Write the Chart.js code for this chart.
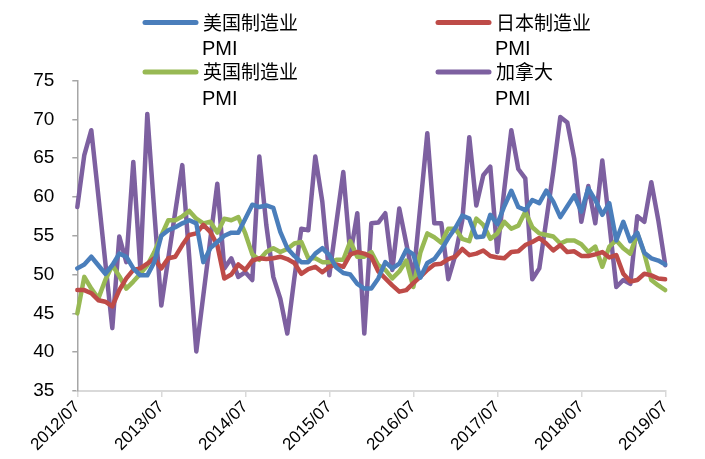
<!DOCTYPE html>
<html>
<head>
<meta charset="utf-8">
<script src="https://cdn.jsdelivr.net/npm/chart.js@4/dist/chart.umd.min.js"></script>
<style>
  html, body { margin: 0; padding: 0; background: #ffffff; }
  #wrap { width: 705px; height: 459px; }
</style>
</head>
<body>
<div id="wrap"><canvas id="pmi" width="705" height="459"></canvas></div>
<script>
// Monthly manufacturing PMI readings, 2012/07 through 2019/07
const firstYear = 2012;
const firstMonth = 7;
const monthCount = 85;
const months = [];
for (let k = 0; k < monthCount; k++) {
  const m = firstMonth - 1 + k;
  months.push((firstYear + Math.floor(m / 12)) + '/' + String(m % 12 + 1).padStart(2, '0'));
}

const seriesNames = [
  ['美国制造业', 'PMI'],
  ['日本制造业', 'PMI'],
  ['英国制造业', 'PMI'],
  ['加拿大', 'PMI']
];

const usPMI = [
  50.8, 51.3, 52.3, 51.2, 50.1, 51.2, 52.7, 52.3, 50.8, 49.9, 49.9, 51.6, 55.0,
  55.7, 56.1, 56.6, 57.0, 56.6, 51.6, 53.4, 54.2, 55.0, 55.4, 55.4, 57.2,
  59.0, 58.7, 58.9, 58.6, 55.5, 53.4, 52.4, 51.6, 51.6, 52.7, 53.4, 52.5,
  50.9, 50.2, 50.0, 48.8, 48.2, 48.2, 49.5, 51.6, 50.8, 51.4, 53.2, 52.6,
  49.6, 51.5, 52.0, 53.2, 54.7, 56.0, 57.6, 57.2, 54.8, 54.9, 57.7, 56.5,
  58.8, 60.8, 58.7, 58.3, 59.6, 59.2, 60.8, 59.4, 57.4, 58.8, 60.2, 58.1,
  61.1, 59.6, 57.7, 59.2, 54.4, 56.8, 54.3, 55.4, 52.8, 52.1, 51.8, 51.3
];
const japanPMI = [
  48.0, 48.0, 47.6, 46.7, 46.5, 45.9, 48.0, 49.5, 50.6, 50.8, 51.4, 52.1, 50.8,
  52.1, 52.3, 53.8, 55.1, 55.3, 56.4, 55.5, 53.8, 49.5, 50.0, 51.3, 50.6,
  51.8, 52.1, 52.0, 52.1, 52.3, 52.0, 51.5, 50.1, 50.7, 51.0, 50.3, 51.0,
  51.3, 51.0, 52.6, 52.9, 52.7, 52.3, 50.4, 49.5, 48.6, 47.8, 48.0, 48.9,
  49.7, 50.6, 51.3, 51.4, 52.0, 52.3, 53.3, 52.5, 52.7, 53.1, 52.4, 52.2,
  52.1, 52.9, 53.0, 53.8, 54.2, 54.7, 54.0, 53.1, 53.8, 52.9, 53.0, 52.4,
  52.4, 52.6, 52.9, 52.2, 52.5, 50.1, 49.1, 49.3, 50.1, 49.9, 49.5, 49.4
];
const ukPMI = [
  45.0, 49.7, 48.2, 46.9, 49.3, 51.2, 49.8, 48.2, 49.1, 50.1, 51.2, 52.9, 55.0,
  57.0, 57.0, 57.5, 58.2, 57.2, 56.6, 56.8, 55.4, 57.2, 57.0, 57.4, 55.3,
  52.6, 51.9, 52.9, 53.4, 52.9, 53.3, 54.0, 54.2, 52.1, 52.1, 51.6, 51.6,
  51.9, 51.9, 54.3, 52.3, 52.3, 52.9, 51.2, 50.6, 49.5, 50.4, 51.8, 48.4,
  52.8, 55.3, 54.8, 54.1, 55.9, 55.9, 54.6, 54.3, 57.2, 56.4, 54.6, 55.3,
  56.8, 55.9, 56.3, 58.1, 56.1, 55.3, 55.1, 54.9, 54.0, 54.4, 54.4, 53.9,
  52.9, 53.6, 51.0, 53.6, 54.4, 53.4, 52.7, 55.3, 52.7, 49.3, 48.6, 48.0
];
const canadaPMI = [
  58.7, 65.4, 68.6, 60.2, 51.6, 43.1, 54.9, 51.6, 64.5, 50.8, 70.7, 58.1, 46.0,
  52.1, 58.1, 64.1, 52.1, 40.1, 47.3, 54.5, 61.7, 50.8, 52.1, 49.7, 50.3,
  49.3, 65.2, 56.4, 49.7, 46.9, 42.4, 49.5, 55.9, 55.7, 65.2, 59.4, 49.9,
  56.6, 63.2, 52.5, 57.9, 42.4, 56.6, 56.7, 57.9, 50.6, 58.5, 54.0, 49.5,
  58.8, 68.2, 56.6, 56.6, 49.4, 52.5, 57.0, 67.7, 58.9, 62.8, 63.9, 52.9,
  61.0, 68.6, 63.6, 62.4, 49.4, 50.8, 57.0, 63.3, 70.3, 69.6, 64.9, 56.8,
  61.4, 56.6, 64.7, 56.6, 48.4, 49.3, 48.8, 57.5, 56.8, 61.9, 57.0, 51.2
];

const yMin = 35, yMax = 75, yStep = 5;
const colors = ['#4A7EBB', '#BE4B48', '#98B954', '#7D60A0'];
const values = [usPMI, japanPMI, ukPMI, canadaPMI];

// Two-column legend with the series name wrapped onto two lines
const wrappedLegend = {
  id: 'wrappedLegend',
  afterDraw(chart) {
    const ctx = chart.ctx;
    const colX = [143, 436];
    const rowY = [22.5, 72];
    chart.data.datasets.forEach((ds, i) => {
      const x = colX[i % 2];
      const y = rowY[Math.floor(i / 2)];
      const lines = seriesNames[i];
      ctx.save();
      ctx.strokeStyle = ds.borderColor;
      ctx.lineWidth = 5;
      ctx.lineCap = 'round';
      ctx.beginPath();
      ctx.moveTo(x + 2, y);
      ctx.lineTo(x + 53, y);
      ctx.stroke();
      ctx.fillStyle = '#000000';
      ctx.textBaseline = 'middle';
      ctx.textAlign = 'left';
      ctx.font = '19px "Noto Sans CJK SC"';
      ctx.fillText(lines[0], x + 60, y);
      ctx.font = '20px "Liberation Sans"';
      ctx.fillText(lines[1], x + 59, y + 27);
      ctx.restore();
    });
  }
};

new Chart(document.getElementById('pmi'), {
  type: 'line',
  data: {
    labels: months,
    datasets: values.map((v, i) => ({
      label: seriesNames[i].join(''),
      data: v,
      borderColor: colors[i],
      backgroundColor: colors[i],
      borderWidth: 4.5,
      pointRadius: 0,
      tension: 0,
      fill: false,
      borderJoinStyle: 'round',
      borderCapStyle: 'round'
    }))
  },
  options: {
    responsive: false,
    animation: false,
    devicePixelRatio: 1,
    layout: { padding: { top: 80.5, right: 39.7, left: 0, bottom: 0 } },
    plugins: { legend: { display: false }, tooltip: { enabled: false } },
    scales: {
      x: {
        type: 'category',
        offset: false,
        grid: {
          drawOnChartArea: false,
          drawTicks: true,
          tickLength: 6,
          lineWidth: 1.5,
          color: ctx => (ctx.index % 12 === 0 ? '#d9d9d9' : 'rgba(0,0,0,0)')
        },
        border: { display: true, color: '#d9d9d9', width: 2 },
        ticks: {
          autoSkip: false,
          minRotation: 45,
          maxRotation: 45,
          padding: 0,
          color: '#000000',
          font: { family: '"Liberation Sans", Arial, sans-serif', size: 17 },
          callback: (v, i) => (i % 12 === 0 ? months[i] : '')
        },
        afterFit: s => { s.height = 68; }
      },
      y: {
        min: yMin,
        max: yMax,
        grid: { drawOnChartArea: false, drawTicks: true, tickLength: 5, color: '#a6a6a6', lineWidth: 1.5 },
        border: { display: true, color: '#a6a6a6', width: 1.5 },
        ticks: {
          stepSize: yStep,
          padding: 18,
          color: '#000000',
          font: { family: '"Liberation Sans", Arial, sans-serif', size: 19 }
        },
        afterFit: s => { s.width = 77.3; }
      }
    }
  },
  plugins: [wrappedLegend]
});
</script>
</body>
</html>
